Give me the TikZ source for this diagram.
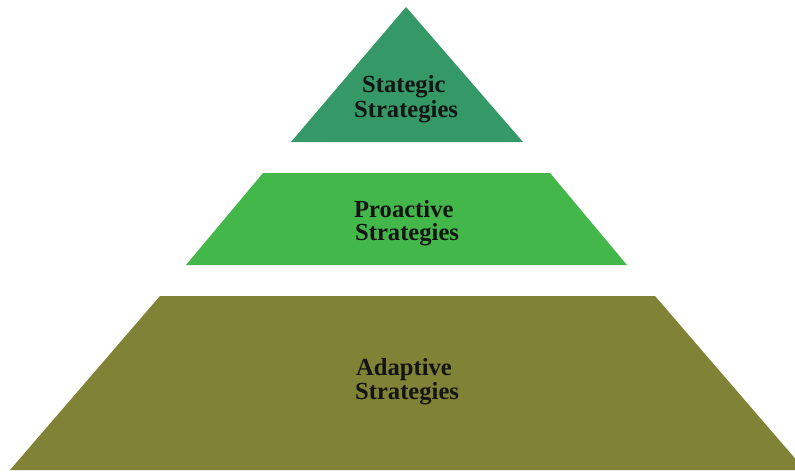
\documentclass[tikz,border=0pt]{standalone}
\usepackage{fontspec}
\setmainfont{Liberation Serif}
\definecolor{topgreen}{RGB}{52,153,102}
\definecolor{midgreen}{RGB}{68,183,74}
\definecolor{olive}{RGB}{128,130,53}
\definecolor{txt}{RGB}{20,20,20}
\begin{document}
\begin{tikzpicture}[x=1pt,y=-1pt,
  lbl/.style={anchor=base west,inner sep=0pt,font=\fontsize{24.6}{24}\selectfont\bfseries,text=txt}]
\useasboundingbox (0,0) rectangle (795,472);
\clip (0,0) rectangle (795,472);
\fill[topgreen] (406,7) -- (523,142) -- (291,142) -- cycle;
\fill[midgreen] (263,173) -- (550,173) -- (627,265) -- (186,265) -- cycle;
\fill[olive] (160,296) -- (655,296) -- (805,470) -- (10,470) -- cycle;
\node[lbl] (t1) at (362,92) {Stategic};
\node[lbl] (t2) at (354,117) {Strategies};
\node[lbl] (m1) at (354,217) {Proactive};
\node[lbl] (m2) at (355,240) {Strategies};
\node[lbl] (b1) at (356,375) {Adaptive};
\node[lbl] (b2) at (355,399) {Strategies};
\end{tikzpicture}
\end{document}
